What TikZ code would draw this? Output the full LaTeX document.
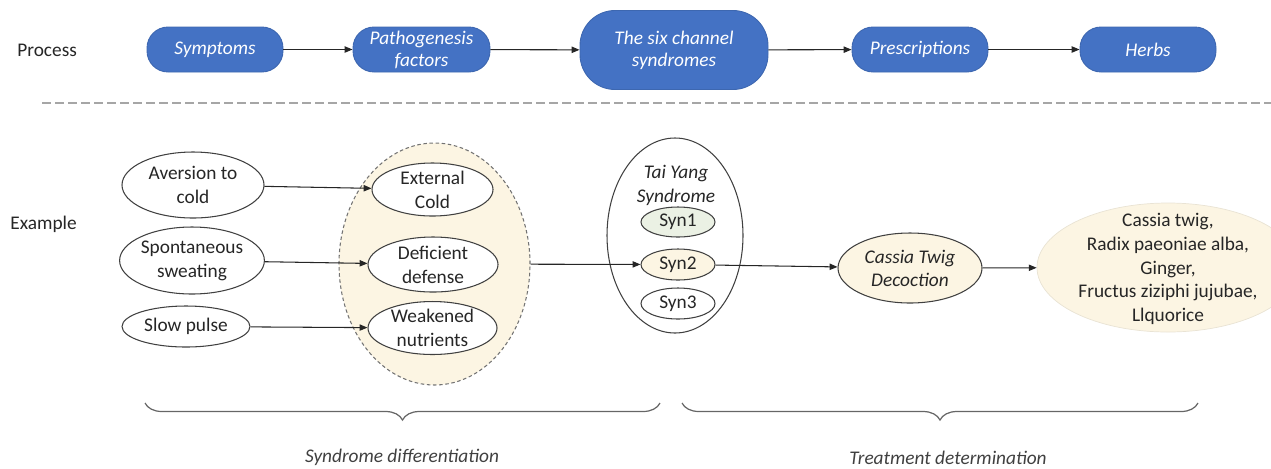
\documentclass[tikz,border=0pt]{standalone}
\usepackage{fontspec}
\setmainfont{Carlito}
\usetikzlibrary{arrows.meta,shapes.geometric,decorations.pathreplacing}
\definecolor{pblue}{HTML}{4472C4}
\definecolor{cream}{HTML}{FCF5E3}
\definecolor{pgreen}{HTML}{EBF1E4}
\definecolor{edgec}{HTML}{404040}
\definecolor{txtc}{HTML}{262626}
\definecolor{sepc}{HTML}{A6A6A6}
\begin{document}
\begin{tikzpicture}[x=0.02cm,y=-0.02cm,
  sz/.style 2 args={minimum width=#1*0.02cm, minimum height=#2*0.02cm},
  proc/.style={rectangle, rounded corners=0.42cm, fill=pblue, draw=pblue!90!black, line width=0.5pt,
     text=white, font=\fontsize{11}{12.5}\selectfont\itshape, align=center, inner sep=0pt},
  ell/.style={ellipse, draw=edgec, line width=0.6pt, fill=white, text=txtc,
     font=\fontsize{11}{13.6}\selectfont, align=center, inner sep=0pt},
  conn/.style={-{Triangle[length=4.5pt,width=3.6pt]}, line width=0.6pt, draw=black!85},
  rowlabel/.style={anchor=west, text=txtc, font=\fontsize{11}{12.5}\selectfont, inner sep=0pt},
  bottomlabel/.style={text=edgec, font=\fontsize{11}{12.5}\selectfont\itshape, inner sep=0pt},
  bracestyle/.style={decorate, decoration={brace, mirror, amplitude=0.34cm}, draw=black!60, line width=0.7pt}
]
\useasboundingbox (0,0) rectangle (1271,468);

% ---------- Process row ----------
\node[rowlabel] (proclab) at (17,50) {Process};
\node[proc, sz={136}{45}] (symp) at (215,49.5) {Symptoms};
\node[proc, sz={137}{45}] (path) at (421.5,49.5) {Pathogenesis\\factors};
\node[proc, sz={188}{79}, rounded corners=0.7cm] (six) at (674,50) {The six channel\\syndromes};
\node[proc, sz={136}{45}] (pres) at (920,49.5) {Prescriptions};
\node[proc, sz={136}{45}] (herbp) at (1148,49.5) {Herbs};
\draw[conn] (symp) -- (path);
\draw[conn] (path) -- (six);
\draw[conn] (six) -- (pres);
\draw[conn] (pres) -- (herbp);

% separator
\coordinate (sepL) at (42,103);
\coordinate (sepR) at (1271,103);
\draw[sepc, line width=1.6pt, dash pattern=on 5pt off 2.4pt] (sepL) -- (sepR);

% ---------- Example row ----------
\node[rowlabel] (exlab) at (10,224) {Example};

\node[ell, sz={142}{66}] (aver) at (193,185) {Aversion to\\cold};
\node[ell, sz={140}{67}] (spon) at (192,260.5) {Spontaneous\\sweating};
\node[ell, sz={128}{41}] (slow) at (186,326.5) {Slow pulse};

\node[ellipse, draw=black!55, fill=cream, line width=0.6pt, dash pattern=on 2pt off 1.5pt,
      sz={191}{242}, inner sep=0pt] (pf) at (434.5,264) {};
\node[ell, sz={121}{53}] (ext) at (432.5,189.5) {External\\Cold};
\node[ell, sz={130}{55}] (def) at (433,264.5) {Deficient\\defense};
\node[ell, sz={129}{50}] (weak) at (432.5,328) {Weakened\\nutrients};

\draw[conn] (aver) -- (ext);
\draw[conn] (spon) -- (def);
\draw[conn] (slow) -- (weak);

\node[ell, fill=none, sz={136}{195}] (taiyang) at (675,235.5) {};
\node[text=txtc, font=\fontsize{11}{13.6}\selectfont\itshape, align=center, inner sep=0pt] (tylab) at (676,185) {Tai Yang\\Syndrome};
\node[ell, fill=pgreen, sz={74}{30}] (syn1) at (678,222) {Syn1};
\node[ell, fill=cream, sz={74}{31}] (syn2) at (678,264.5) {Syn2};
\node[ell, sz={74}{31}] (syn3) at (678,303.5) {Syn3};

\draw[conn] (pf) -- (syn2);

\node[ell, fill=cream, sz={144}{70}, font=\fontsize{11}{13}\selectfont\itshape] (dec) at (910,268) {Cassia Twig\\Decoction};
\draw[conn] (syn2) -- (dec);

\node[ellipse, fill=cream, draw=cream!85!gray, line width=0.4pt, sz={262}{129}, inner sep=0pt] (herbs) at (1168,267.5) {};
\node[text=txtc, font=\fontsize{11}{13.6}\selectfont, align=center, inner sep=0pt] (herbtext) at (1168,269)
  {Cassia twig,\\Radix paeoniae alba,\\Ginger,\\Fructus ziziphi jujubae,\\Llquorice};
\draw[conn] (dec) -- (herbs);

% ---------- braces ----------
\coordinate (bl1) at (145,403);
\coordinate (bl2) at (660,403);
\coordinate (br1) at (682,403);
\coordinate (br2) at (1198,403);
\draw[bracestyle] (bl1) -- (bl2);
\draw[bracestyle] (br1) -- (br2);
\node[bottomlabel] (sdlab) at (402,457) {Syndrome differentiation};
\node[bottomlabel] (tdlab) at (948,458) {Treatment determination};
\end{tikzpicture}
\end{document}
